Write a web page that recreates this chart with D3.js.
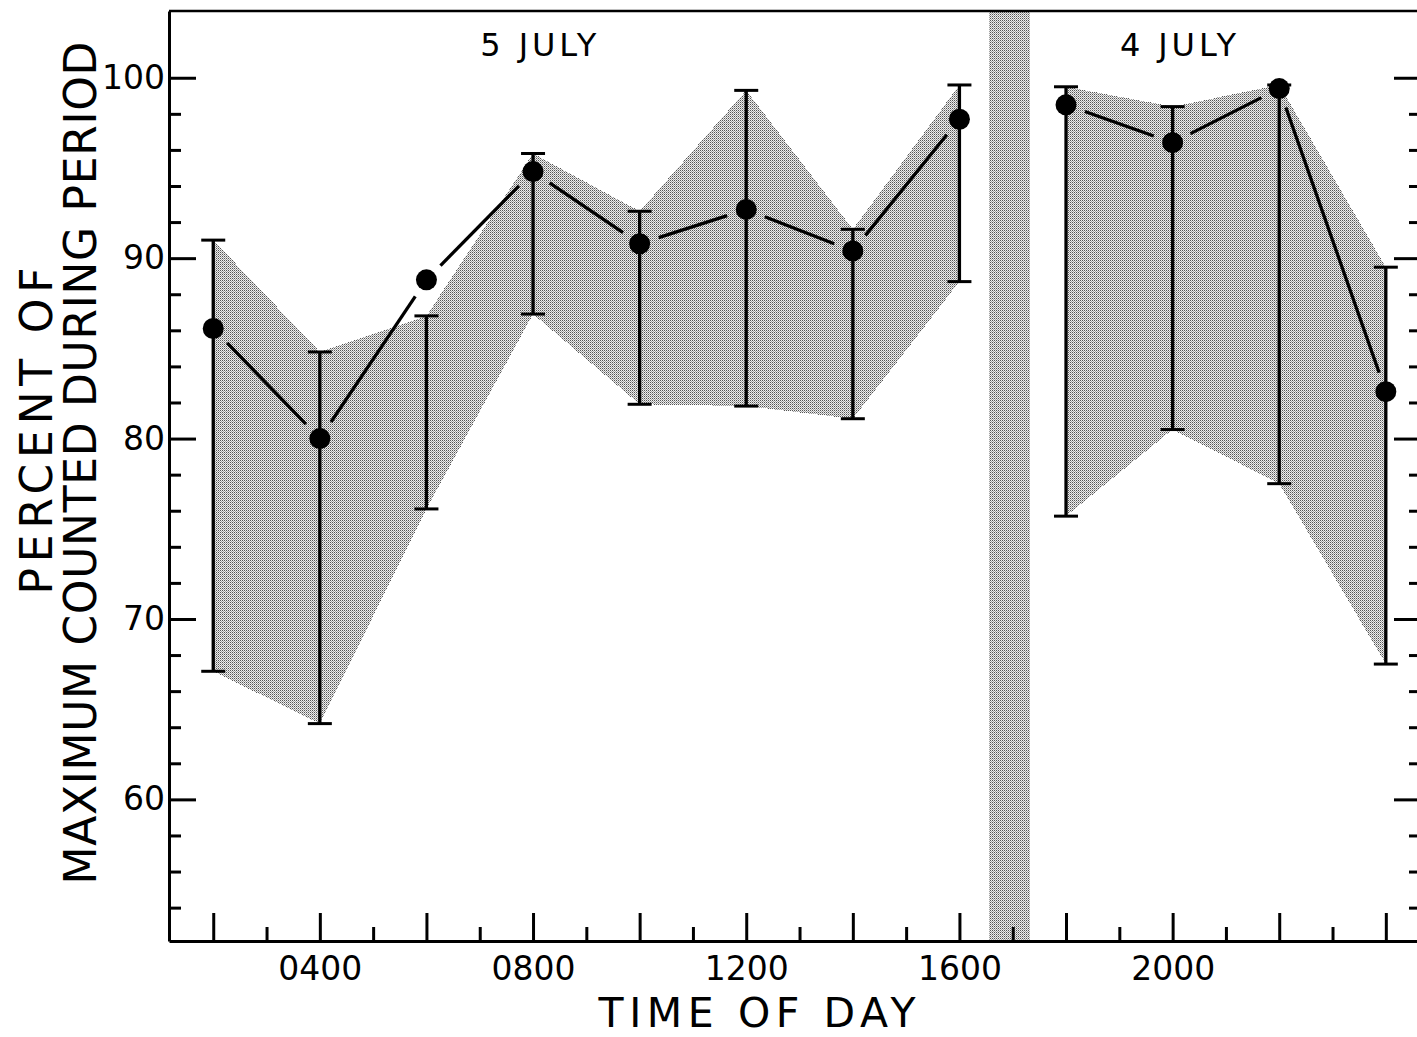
<!DOCTYPE html>
<html>
<head>
<meta charset="utf-8">
<script src="https://cdn.jsdelivr.net/npm/d3@7"></script>
<style>
  html, body { margin: 0; padding: 0; background: #fff; }
  svg { display: block; }
  text { font-family: "DejaVu Sans", sans-serif; fill: #000; }
</style>
</head>
<body>
<svg id="chart" width="1417" height="1037"></svg>
<script>
// Counts per two-hour period, as percent of the period maximum.
// 5 July: 0200 - 1600
const hours5 = [2, 4, 6, 8, 10, 12, 14, 16];
const mean5  = [86.1, 80.0, 88.8, 94.8, 90.8, 92.7, 90.4, 97.7];
const upper5 = [91.0, 84.8, 86.8, 95.8, 92.6, 99.3, 91.6, 99.6];
const lower5 = [67.1, 64.2, 76.1, 86.9, 81.9, 81.8, 81.1, 88.7];

// 4 July: 1800 - 2400
const hours4 = [18, 20, 22, 24];
const mean4  = [98.5, 96.4, 99.4, 82.6];
const upper4 = [99.5, 98.4, 99.6, 89.5];
const lower4 = [75.7, 80.5, 77.5, 67.5];

// Axis ticks and labels
const xLabelHours = [4, 8, 12, 16, 20];
const xTickLabels = ["0400", "0800", "1200", "1600", "2000"];
const yLabelValues = [60, 70, 80, 90, 100];
const yTickLabels = ["60", "70", "80", "90", "100"];

// Day captions and the break between the two days (hours)
const dayNames = ["5 JULY", "4 JULY"];
const dayNameHours = [8.1, 20.1];
const breakBand = [16.55, 17.33];

const xTitle = "TIME OF DAY";
const yTitle = ["PERCENT OF", "MAXIMUM COUNTED DURING PERIOD"];

// ---------------------------------------------------------------
const svg = d3.select("#chart");
const plotLeft = 169, plotRight = 1421, plotTop = 11, plotBottom = 941;

const x = d3.scaleLinear().domain([1.17, 24.66]).range([plotLeft, plotRight]);
const y = d3.scaleLinear().domain([52.15, 103.7]).range([plotBottom, plotTop]);

svg.append("rect").attr("width", 1417).attr("height", 1037).attr("fill", "#fff");

// stipple texture for the shaded ranges
const defs = svg.append("defs");
const pat = defs.append("pattern").attr("id", "stipple")
  .attr("patternUnits", "userSpaceOnUse").attr("width", 2).attr("height", 2);
pat.append("rect").attr("width", 2).attr("height", 2).attr("fill", "#eeeeee");
pat.append("rect").attr("x", 0).attr("y", 0).attr("width", 1).attr("height", 1).attr("fill", "#555555");
pat.append("rect").attr("x", 1).attr("y", 1).attr("width", 1).attr("height", 1).attr("fill", "#a2a2a2");

const series = [
  { h: hours5, m: mean5, hi: upper5, lo: lower5 },
  { h: hours4, m: mean4, hi: upper4, lo: lower4 }
];
series.forEach(s => {
  s.pts = s.h.map((h, i) => ({ h, m: s.m[i], hi: s.hi[i], lo: s.lo[i] }));
});

// shaded range between the error-bar limits
const area = d3.area().x(d => x(d.h)).y0(d => y(d.lo)).y1(d => y(d.hi));
series.forEach(s => {
  svg.append("path").attr("d", area(s.pts))
    .attr("fill", "url(#stipple)").attr("shape-rendering", "crispEdges");
});

// break between the two days
svg.append("rect")
  .attr("x", x(breakBand[0])).attr("y", plotTop)
  .attr("width", x(breakBand[1]) - x(breakBand[0]))
  .attr("height", plotBottom - plotTop)
  .attr("fill", "url(#stipple)").attr("shape-rendering", "crispEdges");

// ---------------------------------------------------------------
// axes
function styleAxis(g, keepDomain) {
  g.attr("font-family", "DejaVu Sans, sans-serif").attr("font-size", 33);
  if (keepDomain) g.select("path.domain").attr("stroke-width", 3).attr("stroke", "#000");
  else g.select("path.domain").remove();
  g.selectAll(".tick line").attr("stroke", "#000").attr("stroke-width", 3);
  g.selectAll(".tick text").attr("fill", "#000");
}

const xFmt = d => { const i = xLabelHours.indexOf(d); return i >= 0 ? xTickLabels[i] : ""; };
const yFmt = d => { const i = yLabelValues.indexOf(d); return i >= 0 ? yTickLabels[i] : ""; };

const xMajor = d3.range(2, 25, 2);
const xMinor = d3.range(3, 25, 2);
const yMajor = d3.range(60, 101, 10);
const yMinor = d3.range(54, 100, 2).filter(v => v % 10 !== 0);

svg.append("g").attr("transform", `translate(0,${plotBottom})`)
  .call(d3.axisBottom(x).tickValues(xMinor).tickSizeInner(-14).tickSizeOuter(0).tickFormat(""))
  .call(g => styleAxis(g, false));
svg.append("g").attr("transform", `translate(0,${plotBottom})`)
  .call(d3.axisBottom(x).tickValues(xMajor).tickSizeInner(-28).tickSizeOuter(0)
        .tickPadding(16).tickFormat(xFmt))
  .call(g => styleAxis(g, true));

svg.append("g").attr("transform", `translate(${plotLeft},0)`)
  .call(d3.axisLeft(y).tickValues(yMinor).tickSizeInner(-12).tickSizeOuter(0).tickFormat(""))
  .call(g => styleAxis(g, false));
svg.append("g").attr("transform", `translate(${plotLeft},0)`)
  .call(d3.axisLeft(y).tickValues(yMajor).tickSizeInner(-27).tickSizeOuter(0)
        .tickPadding(4).tickFormat(yFmt))
  .call(g => styleAxis(g, true));

// right-hand axis, ticks only
svg.append("g").attr("transform", `translate(${plotRight},0)`)
  .call(d3.axisRight(y).tickValues(yMinor).tickSizeInner(-12).tickSizeOuter(0).tickFormat(""))
  .call(g => styleAxis(g, false));
svg.append("g").attr("transform", `translate(${plotRight},0)`)
  .call(d3.axisRight(y).tickValues(yMajor).tickSizeInner(-27).tickSizeOuter(0).tickFormat(""))
  .call(g => styleAxis(g, false));

// top frame line
svg.append("line").attr("x1", plotLeft).attr("x2", plotRight).attr("y1", plotTop).attr("y2", plotTop)
  .attr("stroke", "#000").attr("stroke-width", 2.5);

// ---------------------------------------------------------------
// error bars
const capHalf = 12;
series.forEach(s => {
  const g = svg.append("g").attr("stroke", "#000");
  s.pts.forEach(d => {
    g.append("line").attr("x1", x(d.h)).attr("x2", x(d.h))
      .attr("y1", y(d.lo)).attr("y2", y(d.hi)).attr("stroke-width", 3.3);
    [d.lo, d.hi].forEach(v => {
      g.append("line").attr("x1", x(d.h) - capHalf).attr("x2", x(d.h) + capHalf)
        .attr("y1", y(v)).attr("y2", y(v)).attr("stroke-width", 3);
    });
  });
});

// connecting lines between means, broken short of each point
const gap = 20;
series.forEach(s => {
  const g = svg.append("g").attr("stroke", "#000").attr("stroke-width", 3.3);
  for (let i = 0; i < s.pts.length - 1; i++) {
    const x0 = x(s.pts[i].h), y0 = y(s.pts[i].m);
    const x1 = x(s.pts[i + 1].h), y1 = y(s.pts[i + 1].m);
    const len = Math.hypot(x1 - x0, y1 - y0);
    const ux = (x1 - x0) / len, uy = (y1 - y0) / len;
    g.append("line")
      .attr("x1", x0 + ux * gap).attr("y1", y0 + uy * gap)
      .attr("x2", x1 - ux * gap).attr("y2", y1 - uy * gap);
  }
});

// mean points
series.forEach(s => {
  svg.append("g").selectAll("circle").data(s.pts).join("circle")
    .attr("cx", d => x(d.h)).attr("cy", d => y(d.m)).attr("r", 10.5).attr("fill", "#000");
});

// ---------------------------------------------------------------
// captions
dayNames.forEach((t, i) => {
  svg.append("text").attr("x", x(dayNameHours[i])).attr("y", y(101.2))
    .attr("text-anchor", "middle").attr("font-size", 32)
    .attr("textLength", 116).attr("lengthAdjust", "spacing").text(t);
});

svg.append("text").attr("x", 757).attr("y", 1027)
  .attr("text-anchor", "middle").attr("font-size", 41)
  .attr("textLength", 317).attr("lengthAdjust", "spacing").text(xTitle);

svg.append("text").attr("transform", "translate(52,431) rotate(-90)")
  .attr("text-anchor", "middle").attr("font-size", 44)
  .attr("textLength", 327).attr("lengthAdjust", "spacing").text(yTitle[0]);
svg.append("text").attr("transform", "translate(96,463) rotate(-90)")
  .attr("text-anchor", "middle").attr("font-size", 44)
  .attr("textLength", 843).attr("lengthAdjust", "spacing").text(yTitle[1]);
</script>
</body>
</html>
